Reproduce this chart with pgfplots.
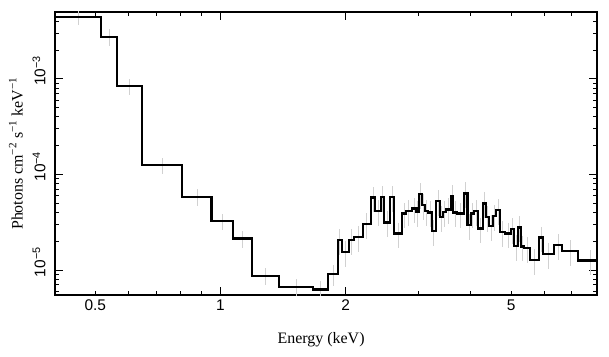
\documentclass[border=0pt]{standalone}
\usepackage{pgfplots}
\pgfplotsset{compat=1.18}
\usepackage{pgfplotstable}
\usepackage{fontspec}
\setmainfont{Liberation Serif}
\newfontfamily\tickfont{Liberation Sans}

\pgfplotstableread{
xl xr y err
0.400 0.516 4.41e-3 0.18
0.516 0.563 2.75e-3 0.2
0.563 0.6465 8.39e-4 0.2
0.6465 0.8094 1.253e-4 0.2
0.8094 0.952 5.85e-5 0.2
0.952 1.073 3.26e-5 0.2
1.073 1.189 2.15e-5 0.2
1.189 1.384 8.74e-6 0.2
1.384 1.672 6.71e-6 0.2
1.672 1.816 6.30e-6 0.22
1.816 1.917 9.10e-6 0.25
1.917 1.956 2.06e-5 0.3
1.956 2.037 1.557e-5 0.3
2.037 2.097 2.06e-5 0.3
2.097 2.197 2.23e-5 0.3
2.197 2.300 3.03e-5 0.3
2.300 2.352 5.76e-5 0.3
2.352 2.431 4.15e-5 0.3
2.431 2.476 5.85e-5 0.3
2.476 2.556 3.16e-5 0.3
2.556 2.613 5.85e-5 0.3
2.613 2.735 2.42e-5 0.3
2.735 2.792 3.92e-5 0.3
2.792 2.882 4.15e-5 0.3
2.882 2.962 4.42e-5 0.3
2.962 3.001 4.05e-5 0.3
3.001 3.056 6.24e-5 0.3
3.056 3.102 4.79e-5 0.3
3.102 3.159 4.18e-5 0.3
3.159 3.219 4.02e-5 0.3
3.219 3.296 2.56e-5 0.3
3.296 3.370 5.27e-5 0.3
3.370 3.433 3.61e-5 0.3
3.433 3.484 4.08e-5 0.3
3.484 3.576 4.32e-5 0.3
3.576 3.628 5.95e-5 0.3
3.628 3.697 4.02e-5 0.3
3.697 3.849 3.92e-5 0.3
3.849 3.928 6.35e-5 0.3
3.928 4.001 2.95e-5 0.3
4.001 4.075 3.92e-5 0.3
4.075 4.166 4.15e-5 0.3
4.166 4.269 2.73e-5 0.3
4.269 4.347 4.99e-5 0.3
4.347 4.428 3.61e-5 0.3
4.428 4.512 2.89e-5 0.3
4.512 4.596 3.67e-5 0.3
4.596 4.698 4.25e-5 0.3
4.698 4.830 2.52e-5 0.3
4.830 4.993 2.42e-5 0.3
4.993 5.086 2.69e-5 0.3
5.086 5.182 1.80e-5 0.3
5.182 5.278 2.80e-5 0.3
5.278 5.375 1.77e-5 0.3
5.375 5.546 1.71e-5 0.3
5.546 5.838 1.275e-5 0.3
5.838 5.970 2.20e-5 0.3
5.970 6.335 1.47e-5 0.3
6.335 6.632 1.83e-5 0.3
6.632 7.224 1.58e-5 0.3
7.224 8.300 1.26e-5 0.3
8.300 8.400 1.26e-5 0
}\spec

\begin{document}
\begin{tikzpicture}
\begin{axis}[
  scale only axis,
  width=542bp, height=283bp,
  xmode=log, ymode=log,
  xmin=0.4, xmax=8.04,
  ymin=5.5e-6, ymax=5e-3,
  axis line style={line width=1.4bp},
  every tick/.style={black, line width=1bp},
  major tick length=8bp,
  minor tick length=4bp,
  tick align=inside,
  xtick={1,2},
  xticklabels={1,2},
  extra x ticks={0.5,5},
  extra x tick labels={0.5,5},
  extra x tick style={major tick length=4bp},
  minor xtick={0.4,0.6,0.7,0.8,0.9,3,4,6,7,8},
  ytick={1e-5,1e-4,1e-3},
  yticklabels={{10\textsuperscript{−5}},{10\textsuperscript{−4}},{10\textsuperscript{−3}}},
  minor ytick={6e-6,7e-6,8e-6,9e-6,2e-5,3e-5,4e-5,5e-5,6e-5,7e-5,8e-5,9e-5,2e-4,3e-4,4e-4,5e-4,6e-4,7e-4,8e-4,9e-4,2e-3,3e-3,4e-3,5e-3},
  ticklabel style={font=\tickfont\fontsize{15.5}{17}\selectfont},
  yticklabel style={rotate=90, anchor=south, xshift=8bp, yshift=6bp},
  xticklabel style={yshift=-1bp},
  xlabel={Energy (keV)},
  ylabel={Photons cm\textsuperscript{−2} s\textsuperscript{−1} keV\textsuperscript{−1}},
  label style={font=\fontsize{16}{18}\selectfont},
  xlabel style={at={(axis description cs:0.491,-0.171)}, anchor=base},
  ylabel style={at={(axis description cs:-0.0596,0.5)}, anchor=base, rotate=0},
]
\addplot[draw=none, mark=none, black!18, line width=0.7bp,
  error bars/.cd, y dir=both, y explicit relative, error mark=none,
  error bar style={black!18, line width=0.7bp}]
  table[x expr={sqrt(\thisrow{xl}*\thisrow{xr})}, y=y, y error=err] {\spec};
\addplot[const plot mark left, black, line width=2.3bp, mark=none]
  table[x=xl, y=y] {\spec};
\end{axis}
\path[use as bounding box] (-55bp,-62bp) rectangle (554bp,295bp);
\end{tikzpicture}
\end{document}
